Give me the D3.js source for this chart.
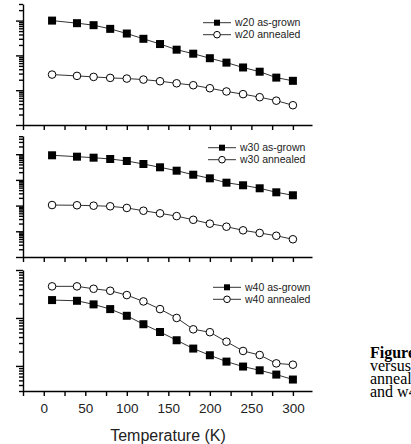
<!DOCTYPE html>
<html>
<head>
<meta charset="utf-8">
<script src="https://cdn.jsdelivr.net/npm/d3@7"></script>
<style>
  html, body { margin: 0; padding: 0; background: #fff; overflow: hidden; }
  svg { display: block; }
  .axis path, .axis line { stroke: #000; stroke-width: 1.4px; }
  .axis text { font-family: "Liberation Sans", Arial, sans-serif; fill: #222; }
  .leg { font-family: "Liberation Sans", Arial, sans-serif; font-size: 10.5px; fill: #222; }
  .cap { font-family: "Liberation Serif", "Times New Roman", serif; font-size: 16px; fill: #000; }
</style>
</head>
<body>
<div id="chart"></div>
<script>
// temperatures (K)
var temps = [10, 40, 60, 80, 100, 120, 140, 160, 180, 200, 220, 240, 260, 280, 300];

// (arbitrary units)
var w20Grown    = [1000, 843, 739, 579, 425, 300, 212, 146, 112, 83, 62, 45, 34, 23, 18.6];
var w20Annealed = [28.1, 25.8, 24.1, 22.6, 21.6, 20.2, 18.1, 15.8, 13.9, 11.4, 9.2, 7.7, 6.3, 5.0, 3.7];
var w30Grown    = [9060, 8000, 7310, 6500, 5440, 4150, 3090, 2280, 1590, 1150, 778, 617, 471, 329, 252];
var w30Annealed = [105, 103, 99, 94, 81, 63, 50, 39, 28, 19.8, 15.1, 10.9, 8.6, 6.7, 4.9];
var w40Grown    = [23.6, 22.8, 19.2, 15.3, 11.1, 7.4, 5.1, 3.43, 2.30, 1.67, 1.23, 0.97, 0.81, 0.66, 0.52];
var w40Annealed = [45.6, 45.6, 40.6, 36.9, 30, 22.1, 15.3, 10, 5.8, 5.05, 3.2, 2.05, 1.69, 1.13, 1.06];

var xTickLabels = [0, 50, 100, 150, 200, 250, 300];
var xTitle = "Temperature (K)";
var captionLines = ["Figure", "versus", "annealed", "and w40"];

var W = 411, H = 444;

var svg = d3.select("#chart").append("svg")
    .attr("width", W)
    .attr("height", H);

var x = d3.scaleLinear().domain([-25, 323]).range([23, 312]);

// one entry per panel: data + where it sits
var panels = [
    { name: "w20", grown: w20Grown, annealed: w20Annealed, domain: [1, 3000], top: 4, bottom: 125,
      legX: 203, legY: 22.7 },
    { name: "w30", grown: w30Grown, annealed: w30Annealed, domain: [1, 51000], top: 136, bottom: 257,
      legX: 208, legY: 147.7 },
    { name: "w40", grown: w40Grown, annealed: w40Annealed, domain: [0.3, 100], top: 270, bottom: 391,
      legX: 213, legY: 287.3 }
];

panels.forEach(function(p, i) {
    var y = d3.scaleLog().domain(p.domain).range([p.bottom, p.top]);
    var g = svg.append("g");
    var last = i === panels.length - 1;

    // left axis, log ticks, no labels
    var yTicks = y.ticks();
    var yAxis = g.append("g")
        .attr("class", "axis")
        .attr("transform", "translate(" + x.range()[0] + ",0)")
        .call(d3.axisLeft(y).tickValues(yTicks).tickFormat("").tickSizeOuter(0));
    yAxis.selectAll(".tick line")
        .attr("x2", function(d) {
            var l = Math.log10(d);
            return Math.abs(l - Math.round(l)) < 1e-6 ? -7 : -4;
        });

    // bottom axis
    var xAxis = g.append("g")
        .attr("class", "axis")
        .attr("transform", "translate(0," + p.bottom + ")")
        .call(d3.axisBottom(x)
            .tickValues(d3.range(-25, 301, 25))
            .tickSize(5)
            .tickSizeOuter(0)
            .tickFormat(function(d) {
                return (last && xTickLabels.indexOf(d) >= 0) ? d : "";
            }));
    xAxis.selectAll("text")
        .attr("y", 12)
        .style("font-size", "13.5px");

    var line = d3.line()
        .x(function(d, j) { return x(temps[j]); })
        .y(function(d) { return y(d); });

    [p.grown, p.annealed].forEach(function(series) {
        g.append("path")
            .datum(series)
            .attr("d", line)
            .attr("fill", "none")
            .attr("stroke", "#333")
            .attr("stroke-width", 1);
    });

    // as-grown: filled squares
    g.selectAll(".sq")
        .data(p.grown)
        .enter()
        .append("rect")
        .attr("class", "sq")
        .attr("x", function(d, j) { return x(temps[j]) - 4; })
        .attr("y", function(d) { return y(d) - 4; })
        .attr("width", 8)
        .attr("height", 8)
        .attr("fill", "#000");

    // annealed: open circles
    g.selectAll(".ci")
        .data(p.annealed)
        .enter()
        .append("circle")
        .attr("class", "ci")
        .attr("cx", function(d, j) { return x(temps[j]); })
        .attr("cy", function(d) { return y(d); })
        .attr("r", 3.8)
        .attr("fill", "#fff")
        .attr("stroke", "#000")
        .attr("stroke-width", 1);

    // legend
    var leg = g.append("g").attr("transform", "translate(" + p.legX + "," + p.legY + ")");
    [{ label: p.name + " as-grown", sq: true }, { label: p.name + " annealed", sq: false }]
        .forEach(function(e, k) {
            var ly = k * 12;
            leg.append("line")
                .attr("x1", 0).attr("x2", 28)
                .attr("y1", ly).attr("y2", ly)
                .attr("stroke", "#333").attr("stroke-width", 1);
            if (e.sq) {
                leg.append("rect")
                    .attr("x", 11).attr("y", ly - 3)
                    .attr("width", 6).attr("height", 6)
                    .attr("fill", "#000");
            } else {
                leg.append("circle")
                    .attr("cx", 14).attr("cy", ly)
                    .attr("r", 3.3)
                    .attr("fill", "#fff").attr("stroke", "#000");
            }
            leg.append("text")
                .attr("class", "leg")
                .attr("x", 32)
                .attr("y", ly)
                .attr("dy", "0.35em")
                .text(e.label);
        });
});

// x axis title
svg.append("text")
    .attr("x", 168)
    .attr("y", 435)
    .attr("dy", "0.35em")
    .attr("text-anchor", "middle")
    .style("font-family", "'Liberation Sans', Arial, sans-serif")
    .style("font-size", "16px")
    .style("fill", "#222")
    .text(xTitle);

// caption fragment on the right (cut off by the page edge, as in the source)
svg.selectAll(".cap")
    .data(captionLines)
    .enter()
    .append("text")
    .attr("class", "cap")
    .attr("x", 370)
    .attr("y", function(d, i) { return 358 + i * 13; })
    .style("font-weight", function(d, i) { return i === 0 ? "bold" : "normal"; })
    .text(function(d) { return d; });
</script>
</body>
</html>
